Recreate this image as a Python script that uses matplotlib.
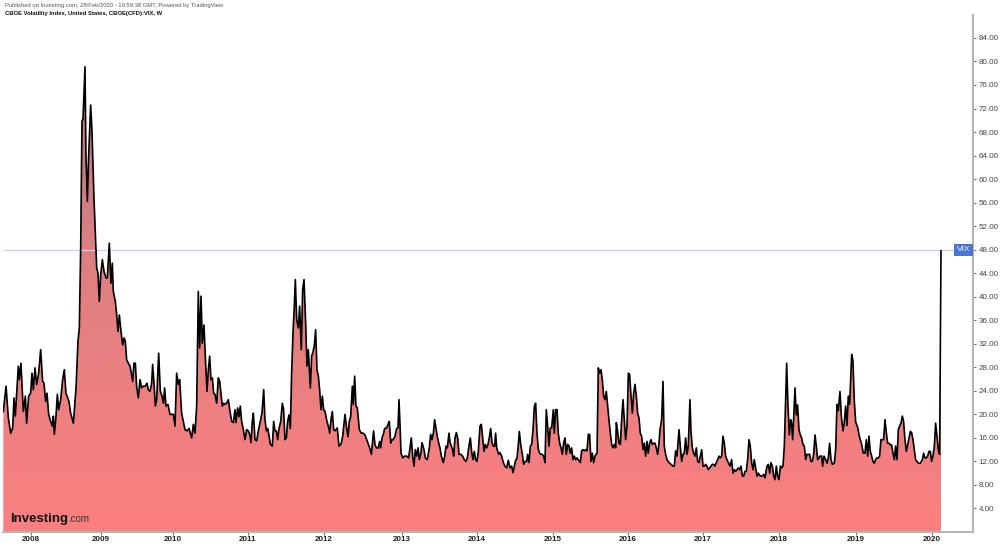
import numpy as np
import matplotlib
matplotlib.use("Agg")
import matplotlib.pyplot as plt
from matplotlib.colors import LinearSegmentedColormap
from matplotlib.patches import Polygon

plt.rcParams['font.family'] = ['Liberation Sans', 'DejaVu Sans']

# ---- data: weekly VIX closes (time in decimal years) ----
t = [
 2007.706, 2007.742, 2007.773, 2007.804, 2007.830, 2007.848, 2007.865, 2007.905, 2007.918, 2007.940,
 2007.971, 2007.998, 2008.015, 2008.042, 2008.068, 2008.086, 2008.104, 2008.126, 2008.148, 2008.174,
 2008.201, 2008.227, 2008.245, 2008.267, 2008.285, 2008.307, 2008.333, 2008.355, 2008.369, 2008.382,
 2008.404, 2008.422, 2008.439, 2008.466, 2008.492, 2008.514, 2008.536, 2008.558, 2008.576, 2008.598,
 2008.634, 2008.669, 2008.695, 2008.713, 2008.731, 2008.748, 2008.762, 2008.788, 2008.801, 2008.819,
 2008.837, 2008.863, 2008.881, 2008.907, 2008.943, 2008.960, 2008.978, 2008.996, 2009.018, 2009.040,
 2009.066, 2009.084, 2009.110, 2009.132, 2009.150, 2009.163, 2009.190, 2009.208, 2009.225, 2009.243,
 2009.260, 2009.287, 2009.305, 2009.322, 2009.340, 2009.362, 2009.384, 2009.402, 2009.419, 2009.437,
 2009.455, 2009.472, 2009.494, 2009.517, 2009.539, 2009.561, 2009.587, 2009.609, 2009.627, 2009.649,
 2009.671, 2009.684, 2009.702, 2009.720, 2009.737, 2009.764, 2009.786, 2009.808, 2009.826, 2009.843,
 2009.861, 2009.887, 2009.914,
 2009.927, 2009.958, 2009.980, 2010.002, 2010.024, 2010.042, 2010.068, 2010.091, 2010.113, 2010.139,
 2010.166, 2010.183, 2010.201, 2010.223, 2010.245, 2010.267, 2010.289, 2010.307, 2010.325, 2010.342,
 2010.364, 2010.386, 2010.404, 2010.422, 2010.439, 2010.457, 2010.475, 2010.492, 2010.510, 2010.532,
 2010.554, 2010.572, 2010.589, 2010.607, 2010.625, 2010.642, 2010.664, 2010.687, 2010.709, 2010.731,
 2010.753, 2010.775, 2010.788, 2010.810, 2010.828, 2010.845, 2010.863, 2010.881, 2010.907, 2010.929,
 2010.951, 2010.974, 2010.987, 2011.004, 2011.018, 2011.040, 2011.062, 2011.084, 2011.110, 2011.132,
 2011.155, 2011.172, 2011.190, 2011.208, 2011.225, 2011.243, 2011.269, 2011.287, 2011.305, 2011.322,
 2011.340, 2011.358, 2011.380, 2011.402, 2011.419, 2011.437, 2011.455, 2011.472, 2011.490, 2011.508,
 2011.525, 2011.543, 2011.561, 2011.574, 2011.592, 2011.614, 2011.631, 2011.653, 2011.671, 2011.689,
 2011.711, 2011.728, 2011.746, 2011.773, 2011.790, 2011.808, 2011.826, 2011.843, 2011.861, 2011.879,
 2011.896, 2011.914, 2011.932, 2011.949, 2011.967, 2011.993, 2012.011, 2012.029, 2012.046, 2012.064,
 2012.082, 2012.099,
 2012.130, 2012.152, 2012.179, 2012.201, 2012.232, 2012.254, 2012.272, 2012.289, 2012.307, 2012.329,
 2012.342, 2012.360, 2012.377, 2012.395, 2012.422, 2012.448, 2012.475, 2012.497, 2012.519, 2012.541,
 2012.559, 2012.581, 2012.598, 2012.611, 2012.629, 2012.651, 2012.673, 2012.691, 2012.704, 2012.722,
 2012.740, 2012.757, 2012.784, 2012.801, 2012.819, 2012.837, 2012.854, 2012.872, 2012.894, 2012.916,
 2012.934, 2012.947, 2012.960, 2012.974, 2012.996, 2013.022, 2013.049, 2013.075, 2013.093, 2013.110,
 2013.128, 2013.146, 2013.163, 2013.181, 2013.199, 2013.216, 2013.234, 2013.252, 2013.278, 2013.296,
 2013.322, 2013.349, 2013.366, 2013.384, 2013.402, 2013.419, 2013.437, 2013.455, 2013.472, 2013.490,
 2013.508, 2013.534, 2013.552, 2013.570, 2013.587, 2013.609, 2013.623, 2013.640, 2013.658, 2013.671,
 2013.689, 2013.707, 2013.724, 2013.742, 2013.768, 2013.790, 2013.812, 2013.834, 2013.852, 2013.874,
 2013.892, 2013.909, 2013.927, 2013.945, 2013.962, 2013.980, 2013.998, 2014.020, 2014.038, 2014.055,
 2014.073, 2014.091, 2014.108, 2014.126, 2014.143, 2014.161, 2014.179, 2014.196, 2014.214, 2014.227,
 2014.241, 2014.267, 2014.285,
 2014.307, 2014.329, 2014.351, 2014.373, 2014.395, 2014.417, 2014.439, 2014.457, 2014.475, 2014.492,
 2014.510, 2014.528, 2014.541, 2014.559, 2014.581, 2014.598, 2014.616, 2014.638, 2014.651, 2014.669,
 2014.687, 2014.704, 2014.722, 2014.740, 2014.757, 2014.775, 2014.793, 2014.810, 2014.828, 2014.846,
 2014.863, 2014.881, 2014.898, 2014.916, 2014.934, 2014.951, 2014.969, 2014.991, 2015.004, 2015.022,
 2015.040, 2015.057, 2015.075, 2015.093, 2015.110, 2015.128, 2015.146, 2015.163, 2015.181, 2015.199,
 2015.216, 2015.234, 2015.252, 2015.269, 2015.287, 2015.305, 2015.322, 2015.349, 2015.366, 2015.384,
 2015.402, 2015.419, 2015.437, 2015.455, 2015.472, 2015.490, 2015.508, 2015.525, 2015.543, 2015.570,
 2015.587, 2015.605, 2015.623, 2015.640, 2015.658, 2015.675, 2015.693, 2015.711, 2015.728, 2015.746,
 2015.764, 2015.781, 2015.799, 2015.817, 2015.826, 2015.843, 2015.861, 2015.879, 2015.896, 2015.914,
 2015.932, 2015.949, 2015.967, 2015.985, 2016.002, 2016.020, 2016.038, 2016.055, 2016.073, 2016.091,
 2016.108, 2016.126, 2016.143, 2016.161, 2016.179, 2016.196, 2016.214, 2016.232, 2016.249, 2016.267,
 2016.285, 2016.302, 2016.320, 2016.338, 2016.355, 2016.373, 2016.391, 2016.404,
 2016.426, 2016.444, 2016.461, 2016.479, 2016.497, 2016.523, 2016.550, 2016.576, 2016.594, 2016.611,
 2016.629, 2016.656, 2016.673, 2016.691, 2016.709, 2016.726, 2016.744, 2016.762, 2016.779, 2016.801,
 2016.815, 2016.832, 2016.850, 2016.868, 2016.885, 2016.903, 2016.921, 2016.938, 2016.956, 2016.974,
 2016.991, 2017.009, 2017.026, 2017.044, 2017.062, 2017.079, 2017.097, 2017.115, 2017.132, 2017.150,
 2017.168, 2017.185, 2017.203, 2017.221, 2017.238, 2017.256, 2017.274, 2017.291, 2017.309, 2017.331,
 2017.353, 2017.371, 2017.389, 2017.406, 2017.424, 2017.442, 2017.459, 2017.477, 2017.495, 2017.512,
 2017.530, 2017.547, 2017.565, 2017.583, 2017.600, 2017.618, 2017.636, 2017.653, 2017.671, 2017.689,
 2017.706, 2017.733, 2017.759, 2017.777, 2017.795, 2017.821, 2017.839, 2017.857, 2017.874, 2017.892,
 2017.910, 2017.927, 2017.945, 2017.962, 2017.980, 2017.998, 2018.015, 2018.033, 2018.051, 2018.068,
 2018.082, 2018.099, 2018.117, 2018.135, 2018.148, 2018.161, 2018.174, 2018.192, 2018.210, 2018.227,
 2018.245, 2018.263, 2018.280, 2018.298, 2018.316, 2018.333, 2018.351, 2018.369, 2018.386, 2018.404,
 2018.422, 2018.439, 2018.457, 2018.475, 2018.492, 2018.510, 2018.523,
 2018.545, 2018.558, 2018.576, 2018.598, 2018.616, 2018.634, 2018.651, 2018.669, 2018.687, 2018.713,
 2018.731, 2018.748, 2018.766, 2018.788, 2018.806, 2018.828, 2018.845, 2018.863, 2018.881, 2018.898,
 2018.916, 2018.943, 2018.960, 2018.978, 2018.996, 2019.022, 2019.040, 2019.057, 2019.075, 2019.097,
 2019.119, 2019.137, 2019.155, 2019.172, 2019.190, 2019.208, 2019.225, 2019.243, 2019.260, 2019.278,
 2019.296, 2019.313, 2019.331, 2019.349, 2019.366, 2019.384, 2019.402, 2019.419, 2019.437, 2019.455,
 2019.472, 2019.490, 2019.508, 2019.525, 2019.543, 2019.561, 2019.578, 2019.596, 2019.614, 2019.631,
 2019.649, 2019.667, 2019.684, 2019.702, 2019.720, 2019.737, 2019.755, 2019.773, 2019.790, 2019.808,
 2019.826, 2019.852, 2019.879, 2019.896, 2019.914, 2019.932, 2019.949, 2019.967, 2019.985, 2020.002,
 2020.020, 2020.038, 2020.055, 2020.073, 2020.091, 2020.108, 2020.126,
]
vix = [
 20.5, 24.8, 19.4, 16.8, 17.7, 22.8, 19.7, 28.2, 25.9, 28.7,
 20.5, 23.1, 18.5, 23.1, 23.6, 27.0, 24.2, 27.9, 25.1, 27.0,
 31.0, 25.6, 25.3, 22.2, 23.6, 20.0, 18.8, 18.0, 19.7, 16.6,
 19.7, 23.4, 20.8, 22.5, 25.9, 27.6, 23.6, 22.8, 22.2, 20.2,
 18.5, 24.5, 32.4, 34.7, 48.3, 69.8, 70.3, 79.1, 64.1, 56.2,
 64.1, 72.6, 68.1, 56.8, 44.9, 44.0, 39.2, 43.8, 46.3, 44.3,
 43.2, 43.2, 49.1, 42.3, 45.7, 40.9, 39.2, 36.9, 34.1, 36.9,
 34.7, 31.8, 33.0, 32.4, 29.3, 28.7, 28.2, 27.0, 25.6, 28.7,
 28.7, 24.8, 22.8, 25.9, 24.5, 24.8, 24.8, 25.3, 24.2, 23.9,
 25.3, 28.5, 25.3, 21.4, 22.5, 30.4, 23.9, 23.1, 21.9, 24.5,
 21.4, 21.7, 20.0,
 20.0, 20.0, 18.0, 27.0, 25.1, 25.9, 20.2, 18.8, 17.4, 17.2,
 17.6, 16.8, 16.0, 18.3, 16.8, 21.4, 40.9, 31.3, 40.1, 32.1,
 35.2, 28.7, 23.9, 27.6, 29.9, 25.9, 26.2, 23.6, 23.4, 21.9,
 26.2, 25.6, 23.6, 21.4, 21.9, 21.7, 21.9, 22.5, 20.5, 18.8,
 18.6, 20.8, 18.6, 21.1, 19.6, 21.4, 18.8, 17.7, 15.7, 17.4,
 17.2, 16.4, 15.2, 18.8, 20.2, 15.7, 15.5, 17.2, 18.8, 20.2,
 24.2, 19.1, 17.2, 17.6, 16.4, 14.9, 14.6, 18.8, 17.2, 17.2,
 15.7, 17.6, 18.8, 21.9, 20.8, 15.7, 16.0, 18.8, 19.9, 17.6,
 27.0, 33.8, 38.6, 42.9, 36.1, 34.7, 38.4, 31.0, 41.2, 42.9,
 35.5, 28.2, 31.0, 24.5, 29.9, 30.6, 31.8, 34.4, 27.6, 26.5,
 24.2, 20.8, 23.1, 20.8, 20.5, 18.8, 18.0, 16.8, 19.1, 20.5,
 17.4, 17.2,
 17.7, 14.6, 14.9, 16.3, 20.0, 17.7, 16.2, 18.8, 19.6, 24.8,
 21.7, 26.5, 21.4, 21.1, 17.4, 16.8, 16.8, 16.5, 15.7, 14.9,
 14.3, 13.2, 15.5, 17.2, 14.8, 14.3, 14.3, 15.4, 14.3, 16.0,
 16.6, 17.6, 17.7, 18.3, 18.8, 15.1, 15.7, 15.7, 16.3, 17.6,
 17.7, 22.5, 18.5, 13.4, 12.6, 12.9, 12.9, 12.6, 14.3, 16.0,
 12.9, 11.2, 14.0, 12.9, 14.3, 12.3, 13.2, 15.2, 14.0, 12.6,
 12.3, 14.3, 16.6, 15.7, 16.8, 19.1, 17.7, 16.2, 15.2, 14.3,
 12.9, 11.8, 12.9, 14.6, 14.3, 16.8, 15.2, 14.6, 14.0, 12.9,
 16.0, 16.9, 16.0, 13.2, 13.2, 12.9, 12.3, 12.0, 12.6, 14.6,
 16.0, 13.7, 12.3, 13.7, 12.3, 12.0, 13.7, 18.0, 18.3, 16.0,
 13.7, 14.9, 14.3, 14.9, 16.0, 17.6, 15.2, 14.6, 14.6, 16.8,
 14.3, 13.2, 13.5,
 12.9, 11.8, 11.2, 10.9, 12.2, 10.9, 11.2, 10.1, 11.2, 12.2,
 12.5, 14.9, 17.1, 14.9, 13.2, 11.5, 12.0, 12.0, 13.2, 11.8,
 14.6, 14.9, 17.4, 21.4, 21.9, 16.8, 14.0, 13.4, 13.2, 13.2,
 12.9, 11.8, 20.8, 18.0, 14.6, 17.7, 17.7, 20.8, 16.8, 20.8,
 20.8, 16.8, 15.1, 14.3, 13.2, 15.1, 16.0, 13.2, 14.9, 14.6,
 13.4, 14.3, 12.3, 12.9, 12.3, 12.6, 12.3, 11.8, 13.8, 14.0,
 13.8, 14.0, 13.8, 16.6, 16.6, 12.0, 13.4, 11.8, 12.9, 13.4,
 27.9, 27.0, 27.6, 25.9, 23.1, 22.5, 23.9, 21.4, 19.1, 16.8,
 14.9, 14.3, 14.9, 14.3, 18.6, 17.0, 15.1, 14.9, 19.1, 22.5,
 19.1, 15.7, 18.0, 27.0, 26.8, 23.1, 20.2, 23.6, 25.1, 23.1,
 20.2, 19.4, 16.8, 16.3, 14.0, 15.1, 12.9, 15.4, 13.4, 15.1,
 15.7, 14.9, 15.1, 15.1, 14.3, 13.2, 15.1, 17.4,
 19.1, 25.6, 14.6, 13.2, 12.3, 11.8, 11.5, 11.2, 11.2, 13.8,
 12.9, 17.4, 14.6, 12.0, 13.2, 13.4, 16.0, 13.2, 14.6, 22.5,
 17.1, 14.3, 13.4, 12.9, 14.3, 12.0, 11.8, 12.9, 14.0, 11.2,
 11.2, 11.5, 11.2, 10.6, 10.9, 11.2, 11.5, 11.5, 11.2, 11.8,
 12.3, 12.9, 12.6, 12.9, 16.3, 15.1, 12.9, 12.3, 11.8, 11.2,
 12.3, 10.0, 10.6, 10.3, 10.6, 10.9, 10.6, 11.2, 9.5, 9.5,
 10.3, 10.3, 12.3, 15.7, 14.6, 11.8, 10.6, 12.3, 10.9, 9.5,
 10.0, 9.5, 9.5, 9.8, 9.2, 11.2, 11.5, 10.0, 11.8, 11.2,
 9.5, 8.9, 11.2, 9.5, 8.9, 11.2, 10.9, 11.2, 14.6, 22.0,
 28.7, 21.7, 16.5, 19.1, 18.5, 15.7, 19.1, 24.5, 19.9, 21.6,
 17.4, 16.5, 16.0, 14.9, 14.6, 12.3, 13.2, 13.2, 13.2, 12.0,
 12.0, 13.2, 16.5, 14.6, 12.3, 12.6, 12.9,
 12.9, 11.2, 12.9, 12.3, 11.7, 12.6, 15.1, 12.3, 11.5, 11.7,
 14.0, 21.7, 20.6, 23.9, 19.7, 17.2, 18.6, 21.4, 18.1, 23.1,
 21.7, 30.2, 29.1, 22.3, 18.7, 17.8, 16.6, 15.7, 14.9, 13.4,
 13.4, 15.7, 12.9, 16.3, 13.7, 12.9, 12.0, 11.7, 12.3, 12.6,
 12.6, 12.9, 15.7, 15.7, 15.7, 19.1, 16.9, 15.1, 15.1, 14.8,
 14.8, 13.4, 12.3, 14.6, 12.3, 17.4, 18.0, 18.5, 19.7, 18.8,
 15.7, 13.7, 14.8, 16.0, 17.1, 16.9, 15.7, 14.0, 12.3, 12.0,
 11.7, 11.7, 12.3, 13.4, 12.6, 12.6, 12.9, 13.7, 13.7, 12.0,
 12.9, 14.6, 18.5, 16.3, 14.0, 13.2, 47.8,
]

year_labels = ['2008', '2009', '2010', '2011', '2012', '2013', '2014',
               '2015', '2016', '2017', '2018', '2019', '2020']
year_ticks = [2008.073, 2009.0, 2009.954, 2010.947, 2011.954, 2012.983, 2013.977,
              2014.987, 2015.980, 2016.974, 2017.980, 2018.996, 2020.003]
price_ticks = [4, 8, 12, 16, 20, 24, 28, 32, 36, 40, 44, 48, 52, 56, 60, 64, 68, 72, 76, 80, 84]
last_value = 48.0
series_name = 'VIX'

# ---- figure ----
W, H = 1000, 545
fig = plt.figure(figsize=(W / 100, H / 100), dpi=100)
fig.patch.set_facecolor('white')
ax = fig.add_axes([3 / W, (H - 532) / H, 970 / W, (532 - 15) / H])

xmin, xmax = 2007.702, 2020.550
ymin, ymax = 0.0, 87.9
ax.set_xlim(xmin, xmax)
ax.set_ylim(ymin, ymax)

# gradient area
cmap = LinearSegmentedColormap.from_list(
    'area', [(0.0, (0.99, 0.50, 0.50)), (0.55, (0.86, 0.50, 0.51)), (1.0, (0.64, 0.48, 0.51))])
grad = np.linspace(0, 1, 256).reshape(-1, 1)
im = ax.imshow(grad, cmap=cmap, origin='lower', aspect='auto',
               extent=[xmin, xmax, ymin, ymax], zorder=1)
verts = [(t[0], 0)] + list(zip(t, vix)) + [(t[-1], 0)]
poly = Polygon(verts, closed=True, facecolor='none', edgecolor='none')
ax.add_patch(poly)
im.set_clip_path(poly)

ax.plot(t, vix, color='black', lw=1.2, zorder=3, solid_joinstyle='round')

# last-value line and label
ax.axhline(last_value, color='#c9d0f2', lw=0.9, zorder=2)
ax.text(xmax - 0.035, last_value, series_name, ha='right', va='center', fontsize=6,
        color='white', zorder=5,
        bbox=dict(boxstyle='square,pad=0.3', facecolor='#4a74d6', edgecolor='none'))

# axes styling
for s in ['left', 'top']:
    ax.spines[s].set_visible(False)
for s in ['right', 'bottom']:
    ax.spines[s].set_color('#b5b5b5')
    ax.spines[s].set_linewidth(1.5)
ax.yaxis.tick_right()
ax.set_yticks(price_ticks)
ax.set_yticklabels([f'{p:.2f}' for p in price_ticks])
ax.set_xticks(year_ticks)
ax.set_xticklabels(year_labels)
ax.tick_params(axis='y', right=True, left=False, length=2.5, width=0.8, color='#777777',
               labelsize=5.8, labelcolor='#444444', pad=1.5)
ax.tick_params(axis='x', length=2, width=0.8, color='#777777',
               labelsize=5.8, labelcolor='#222222', pad=0.8)
for lab in ax.get_xticklabels():
    lab.set_fontweight('bold')

# header
fig.text(5 / W, 1 - 5 / H, 'Published on Investing.com, 28/Feb/2020 - 10:59:38 GMT, Powered by TradingView',
         fontsize=4.2, color='#555555', va='center', ha='left')
fig.text(5 / W, 1 - 13 / H, 'CBOE Volatility Index, United States, CBOE(CFD):VIX, W',
         fontsize=4.2, color='#111111', va='center', ha='left', fontweight='bold')

# logo: "Investing" followed directly by ".com"
logo = fig.text(10 / W, 1 - 522 / H, 'Investing', fontsize=9.5, fontweight='bold', color='#111111',
                va='baseline', ha='left', zorder=10)
fig.canvas.draw()
bb = logo.get_window_extent(renderer=fig.canvas.get_renderer())
fig.text((bb.x1 + 0.5) / W, 1 - 522 / H, '.com', fontsize=7, color='#333333',
         va='baseline', ha='left', zorder=10)

fig.savefig('out.png', dpi=100, facecolor='white')
